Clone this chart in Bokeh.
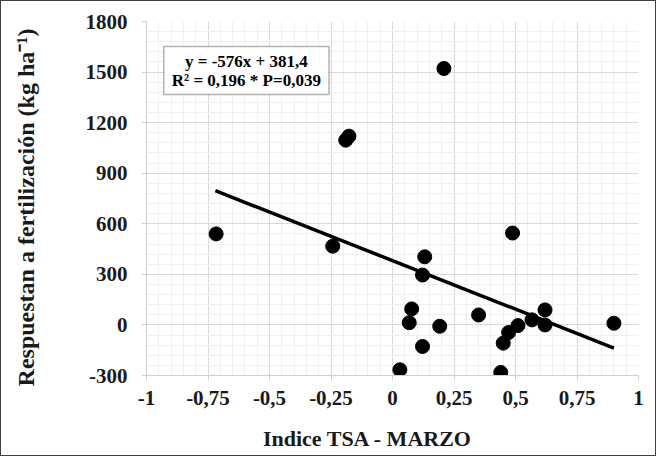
from bokeh.plotting import figure
from bokeh.models import FixedTicker, BoxAnnotation, Label, Range1d
from bokeh.embed import file_html
from bokeh.resources import INLINE

# Data
tsa_x = [-0.717, -0.243, -0.19, -0.177, 0.209, 0.488, 0.131, 0.122, 0.078, 0.068,
         0.192, 0.122, 0.03, 0.35, 0.44, 0.45, 0.472, 0.51, 0.567, 0.62, 0.62, 0.90]
resp_y = [540, 467, 1096, 1120, 1521, 545, 404, 296, 95, 13,
          -8, -128, -266, 59, -282, -108, -45, -4, 30, 89, 0, 10]

slope = -576
intercept = 381.4
fit_x = [-0.72, 0.90]
fit_y = [slope * v + intercept for v in fit_x]

x_ticks = [-1, -0.75, -0.5, -0.25, 0, 0.25, 0.5, 0.75, 1]
x_tick_labels = ["-1", "-0,75", "-0,5", "-0,25", "0", "0,25", "0,5", "0,75", "1"]
y_ticks = [-300, 0, 300, 600, 900, 1200, 1500, 1800]
y_tick_labels = ["-300", "0", "300", "600", "900", "1200", "1500", "1800"]
x_minor = [round(-1 + 0.05 * i, 4) for i in range(41)]
y_minor = [-300 + 60 * i for i in range(36)]

x_title = "Indice TSA - MARZO"
y_title = "Respuestan a fertilización (kg ha⁻¹)"
eq_line1 = "y = -576x + 381,4"
eq_line2 = "R² = 0,196 * P=0,039"

FONT = "Times New Roman"
NBSP = "\u00a0"

p = figure(width=656, height=456, output_backend="svg", toolbar_location=None,
           x_range=Range1d(-1, 1), y_range=Range1d(-300, 1800),
           min_border_left=145, min_border_right=19, min_border_top=20, min_border_bottom=82)
p.styles = {"border": "1.5px solid #404040", "box-sizing": "border-box"}
p.outline_line_color = None

p.xaxis.ticker = FixedTicker(ticks=x_ticks, minor_ticks=x_minor)
p.yaxis.ticker = FixedTicker(ticks=y_ticks, minor_ticks=y_minor)
p.xaxis.major_label_overrides = dict(zip(x_ticks, x_tick_labels))
p.yaxis.major_label_overrides = dict(zip(y_ticks, y_tick_labels))

for ax in (p.xaxis, p.yaxis):
    ax.axis_line_color = "#d0d0d0"
    ax.major_tick_line_color = "#d0d0d0"
    ax.major_tick_out = 5
    ax.major_tick_in = 0
    ax.minor_tick_line_color = None
    ax.major_label_text_font = FONT
    ax.major_label_text_font_style = "bold"
    ax.major_label_text_font_size = "21px"
    ax.major_label_text_color = "#1a1a1a"
    ax.axis_label_text_font = FONT
    ax.axis_label_text_font_style = "bold"
    ax.axis_label_text_color = "#1a1a1a"
p.xaxis.major_label_standoff = 10
p.yaxis.major_label_standoff = 14

# trailing non-breaking spaces shift the centred titles like in the reference
p.xaxis.axis_label = x_title + NBSP * 9
p.yaxis.axis_label = y_title + NBSP * 3
p.xaxis.axis_label_text_font_size = "22px"
p.yaxis.axis_label_text_font_size = "24px"
p.xaxis.axis_label_standoff = 18
p.yaxis.axis_label_standoff = 44

for g in (p.xgrid, p.ygrid):
    g.grid_line_color = "#d9d9d9"
    g.grid_line_width = 1
    g.minor_grid_line_color = "#efefef"
    g.minor_grid_line_width = 1

p.line(fit_x, fit_y, line_color="black", line_width=3.5)
p.scatter(tsa_x, resp_y, size=14, fill_color="black", line_color="black")

box = BoxAnnotation(left=-0.93, right=-0.258, bottom=1367, top=1651,
                    fill_color="white", fill_alpha=1.0, line_color="black", line_width=1.5)
p.add_layout(box)
p.add_layout(Label(x=-0.594, y=1562, text=eq_line1, text_align="center", text_baseline="middle",
                   text_font=FONT, text_font_style="bold", text_font_size="17px", text_color="black"))
p.add_layout(Label(x=-0.594, y=1450, text=eq_line2, text_align="center", text_baseline="middle",
                   text_font=FONT, text_font_style="bold", text_font_size="17px", text_color="black"))

open("out.html", "w").write(file_html(p, INLINE))
